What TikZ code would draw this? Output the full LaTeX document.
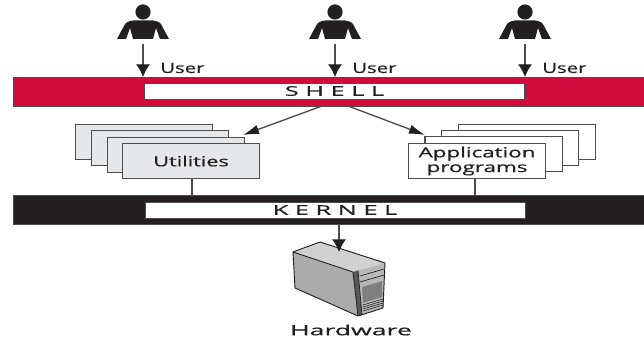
\documentclass[tikz,border=0pt]{standalone}
\usepackage{fontspec}
\usepackage{graphicx}
\setmainfont[FakeBold=0.5]{Open Sans}
\usetikzlibrary{arrows.meta}
\definecolor{shellred}{HTML}{D20A3C}
\definecolor{inkblack}{HTML}{231F20}
\definecolor{utilgrey}{HTML}{E6E7E8}
\definecolor{linegrey}{HTML}{4D4D4F}
\newcommand{\wtext}[2]{\scalebox{#1}[1]{#2}}
\tikzset{
  x=0.75pt,y=-0.75pt,
  bar/.style={draw=linegrey,line width=0.7pt,anchor=north west,inner sep=0,minimum width=473pt,minimum height=21.75pt},
  label box/.style={draw=linegrey,line width=0.7pt,fill=white,inner sep=0,minimum width=285pt,minimum height=12pt,font=\fontsize{10}{11}\selectfont,text=inkblack},
  card/.style={draw=linegrey,line width=1.1pt,anchor=north west,inner sep=0,minimum width=102.5pt,minimum height=26pt},
  util/.style={card,fill=utilgrey},
  app/.style={card,fill=white},
  txt/.style={text=inkblack,font=\fontsize{10.5}{10.5}\selectfont,inner sep=0},
  wire/.style={draw=linegrey,line width=1pt},
  arrow/.style={wire,-{Latex[length=9.5pt,width=10.5pt,color=inkblack]}},
  thin arrow/.style={wire,-{Latex[length=12pt,width=7pt,color=inkblack]}},
  person/.style={fill=inkblack,draw=none},
}
\newcommand{\userfigure}[1]{%
  \begin{scope}[shift={(#1)}]
    \fill[person] (0,12) circle (7.6);
    \fill[person] (-10,20.5) .. controls (-15,21) and (-18,23) .. (-19,26) -- (-26,39) -- (-17,39) -- (-13,28) -- (-10,39) -- (10,39) -- (13,28) -- (17,39) -- (26,39) -- (19,26) .. controls (18,23) and (15,21) .. (10,20.5) -- cycle;
  \end{scope}}
\begin{document}
\begin{tikzpicture}
\useasboundingbox (0,0) rectangle (644,338);
\fill[white] (0,0) rectangle (644,338);

% bars
\node[bar,fill=shellred] (shellbar) at (13,77) {};
\node[bar,fill=inkblack] (kernelbar) at (13,195) {};
\node[label box] (shell) at (334.5,91) {\wtext{1.9}{S H E L L}};
\node[label box] (kernel) at (335,210) {\wtext{1.9}{K E R N E L}};

% users
\userfigure{143,0}
\userfigure{335,0}
\userfigure{525,0}
\coordinate (u1) at (143,44);
\coordinate (u2) at (335,44);
\coordinate (u3) at (525,44);
\draw[arrow] (u1) -- (u1 |- shellbar.north);
\draw[arrow] (u2) -- (u2 |- shellbar.north);
\draw[arrow] (u3) -- (u3 |- shellbar.north);
\node[txt,anchor=west] (l1) at (160,68) {\wtext{1.45}{User}};
\node[txt,anchor=west] (l2) at (352,68) {\wtext{1.45}{User}};
\node[txt,anchor=west] (l3) at (542,68) {\wtext{1.45}{User}};

% utilities
\node[util] (ut4) at (75,124) {};
\node[util] (ut3) at (91,130) {};
\node[util] (ut2) at (107,137) {};
\node[util,align=center,txt,text=inkblack] (ut1) at (122,143) {\wtext{1.55}{Utilities}};

% applications
\node[app] (ap4) at (458,124) {};
\node[app] (ap3) at (441,130) {};
\node[app] (ap2) at (425,136) {};
\node[app,align=center,txt] (ap1) at (408,143) {\wtext{1.6}{Application}\\[0.5pt]\wtext{1.6}{programs}};

% connectors
\coordinate (sl) at (322,106);
\coordinate (sr) at (348,106);
\coordinate (tl) at (243,135);
\coordinate (tr) at (425,135);
\draw[thin arrow] (sl) -- (tl);
\draw[thin arrow] (sr) -- (tr);
\draw[wire] (ap2.north west) -- (ap1.north -| ap2.north west);
\draw[wire] (ut1.south -| 192,0) -- (kernelbar.north -| 192,0);
\draw[wire] (ap1.south -| 475,0) -- (kernelbar.north -| 475,0);

% server
\fill[black!33] (293,252) -- (353,272) -- (358,316) -- (295,288) -- cycle;
\fill[black!18] (293,252) -- (320,242) -- (385,263) -- (353,272) -- cycle;
\fill[black!65] (353,272) -- (358,270.5) -- (362,315) -- (358,316) -- cycle;
\fill[black!28] (358,270.5) -- (385,263) -- (383,308) -- (362,315) -- cycle;
\draw[inkblack,line width=0.7pt,line join=round] (293,252) -- (320,242) -- (385,263) -- (383,308) -- (358,316) -- (295,288) -- cycle;
\draw[inkblack,line width=0.6pt] (293,252) -- (353,272) -- (358,316) (358,270.5) -- (362,315);
\draw[inkblack,line width=0.5pt] (360,276) -- (384,269) (360,282) -- (384,275);
\fill[black!50] (362,287) -- (382,281) -- (382,297) -- (363,303) -- cycle;
\foreach \k in {0,2,4,6} \draw[inkblack,line width=0.4pt] (363,305+\k) -- (383,299+\k);
\coordinate (srv) at (339,252);
\draw[arrow] (srv |- kernelbar.south) -- (srv);
\node[txt] (hw) at (351,330) {\wtext{1.9}{Hardware}};
\end{tikzpicture}
\end{document}
